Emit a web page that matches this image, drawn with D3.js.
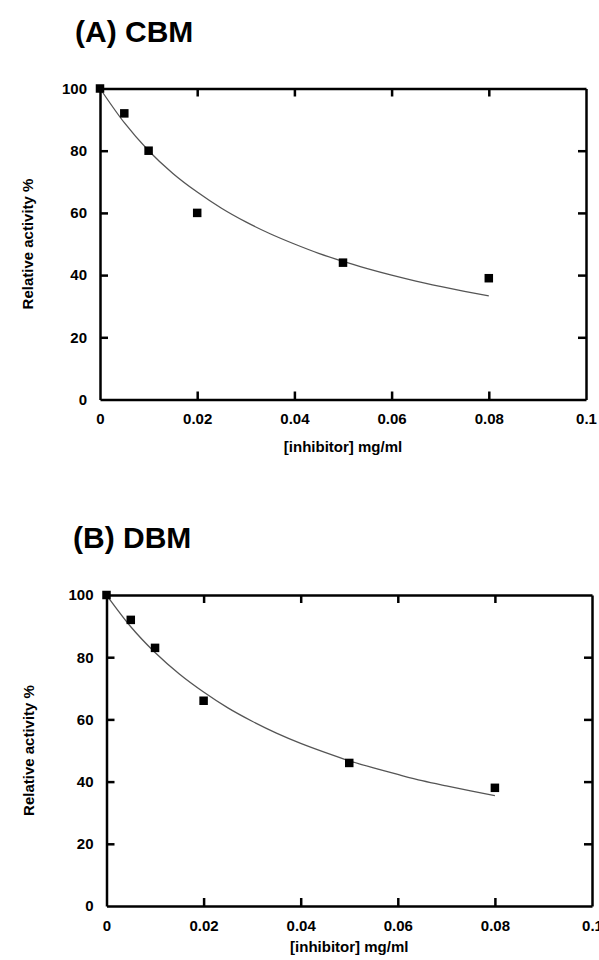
<!DOCTYPE html>
<html>
<head>
<meta charset="utf-8">
<script src="https://cdn.jsdelivr.net/npm/d3@7"></script>
<style>
  html, body { margin: 0; padding: 0; background: #fff; }
  svg { display: block; font-family: "Liberation Sans", Arial, sans-serif; }
</style>
</head>
<body>
<svg id="chart" width="599" height="960"></svg>
<script>
// ---- Data ----
const concentrations = [0, 0.005, 0.01, 0.02, 0.05, 0.08];
const activityCBM = [100, 92, 80, 60, 44, 39];
const activityDBM = [100, 92, 83, 66, 46, 38];

// fitted curves
const fitX = [0, 0.005, 0.01, 0.015, 0.02, 0.025, 0.03, 0.035, 0.04, 0.045, 0.05, 0.055, 0.06, 0.065, 0.07, 0.075, 0.08];
const fitCBM = [100, 89, 80, 72.7, 66.7, 61.5, 57.1, 53.3, 50, 47, 44.4, 42.1, 40, 38.1, 36.4, 34.8, 33.3];
const fitDBM = [100, 89.8, 81.5, 74.6, 68.8, 63.7, 59.4, 55.6, 52.3, 49.4, 46.7, 44.4, 42.3, 40.3, 38.6, 37, 35.5];

const xTicks = [0, 0.02, 0.04, 0.06, 0.08, 0.1];
const xTickLabels = ["0", "0.02", "0.04", "0.06", "0.08", "0.1"];
const yTicks = [0, 20, 40, 60, 80, 100];
const yTickLabels = ["0", "20", "40", "60", "80", "100"];

const panelTitles = ["(A) CBM", "(B) DBM"];
const xAxisTitle = "[inhibitor] mg/ml";
const yAxisTitle = "Relative activity %";

// ---- Drawing ----
const svg = d3.select("#chart");

const panels = [
  { title: panelTitles[0], pts: activityCBM, fit: fitCBM,
    left: 100, right: 586, top: 88.5, bottom: 399.5, titleX: 75, titleY: 42, yTitleX: 33, xTitleOff: 52 },
  { title: panelTitles[1], pts: activityDBM, fit: fitDBM,
    left: 106.5, right: 592, top: 595, bottom: 906, titleX: 73, titleY: 548, yTitleX: 34, xTitleOff: 46 }
];

panels.forEach(p => {
  const g = svg.append("g");
  const x = d3.scaleLinear().domain([0, 0.1]).range([p.left, p.right]);
  const y = d3.scaleLinear().domain([0, 100]).range([p.bottom, p.top]);
  const tickLen = 8;

  // Panel title
  g.append("text")
    .attr("x", p.titleX).attr("y", p.titleY)
    .attr("font-size", 30).attr("font-weight", "bold")
    .attr("fill", "#000")
    .text(p.title);

  // fitted curve
  const line = d3.line()
    .x((d, i) => x(fitX[i]))
    .y(d => y(d))
    .curve(d3.curveMonotoneX);
  g.append("path")
    .datum(p.fit)
    .attr("d", line)
    .attr("fill", "none")
    .attr("stroke", "#555")
    .attr("stroke-width", 1.3);

  // axes (inward ticks)
  const bottomAxis = d3.axisBottom(x).tickValues(xTicks).tickSizeInner(-tickLen).tickSizeOuter(0)
    .tickFormat((d, i) => xTickLabels[i]).tickPadding(tickLen + 6);
  const topAxis = d3.axisTop(x).tickValues(xTicks).tickSizeInner(-tickLen).tickSizeOuter(0).tickFormat("");
  const leftAxis = d3.axisLeft(y).tickValues(yTicks).tickSizeInner(-tickLen).tickSizeOuter(0)
    .tickFormat((d, i) => yTickLabels[i]).tickPadding(tickLen + 5);
  const rightAxis = d3.axisRight(y).tickValues(yTicks).tickSizeInner(-tickLen).tickSizeOuter(0).tickFormat("");

  const styleAxis = sel => {
    sel.select(".domain").attr("stroke", "#000").attr("stroke-width", 2.5);
    sel.selectAll(".tick line").attr("stroke", "#000").attr("stroke-width", 2.5);
    sel.selectAll(".tick text").attr("fill", "#000")
      .attr("font-size", 15).attr("font-weight", "bold")
      .attr("font-family", "'Liberation Sans', Arial, sans-serif");
  };

  g.append("g").attr("transform", `translate(0,${p.bottom})`).call(bottomAxis).call(styleAxis)
    .selectAll(".tick text").attr("dy", "0.71em");
  g.append("g").attr("transform", `translate(0,${p.top})`).call(topAxis).call(styleAxis);
  g.append("g").attr("transform", `translate(${p.left},0)`).call(leftAxis).call(styleAxis);
  g.append("g").attr("transform", `translate(${p.right},0)`).call(rightAxis).call(styleAxis);

  // hide the edge ticks that overlap the frame
  g.selectAll(".tick").filter(d => d === 0 || d === 0.1 || d === 100).select("line").remove();

  // data points
  const sq = 8.5;
  g.selectAll("rect.pt")
    .data(p.pts)
    .enter().append("rect")
    .attr("class", "pt")
    .attr("x", (d, i) => x(concentrations[i]) - sq / 2)
    .attr("y", d => y(d) - sq / 2)
    .attr("width", sq).attr("height", sq)
    .attr("fill", "#000");

  // axis titles
  g.append("text")
    .attr("x", (p.left + p.right) / 2)
    .attr("y", p.bottom + p.xTitleOff)
    .attr("text-anchor", "middle")
    .attr("font-size", 15).attr("font-weight", "bold").attr("fill", "#000")
    .text(xAxisTitle);

  g.append("text")
    .attr("transform", `translate(${p.yTitleX},${(p.top + p.bottom) / 2}) rotate(-90)`)
    .attr("text-anchor", "middle")
    .attr("font-size", 15).attr("font-weight", "bold").attr("fill", "#000")
    .text(yAxisTitle);
});
</script>
</body>
</html>
